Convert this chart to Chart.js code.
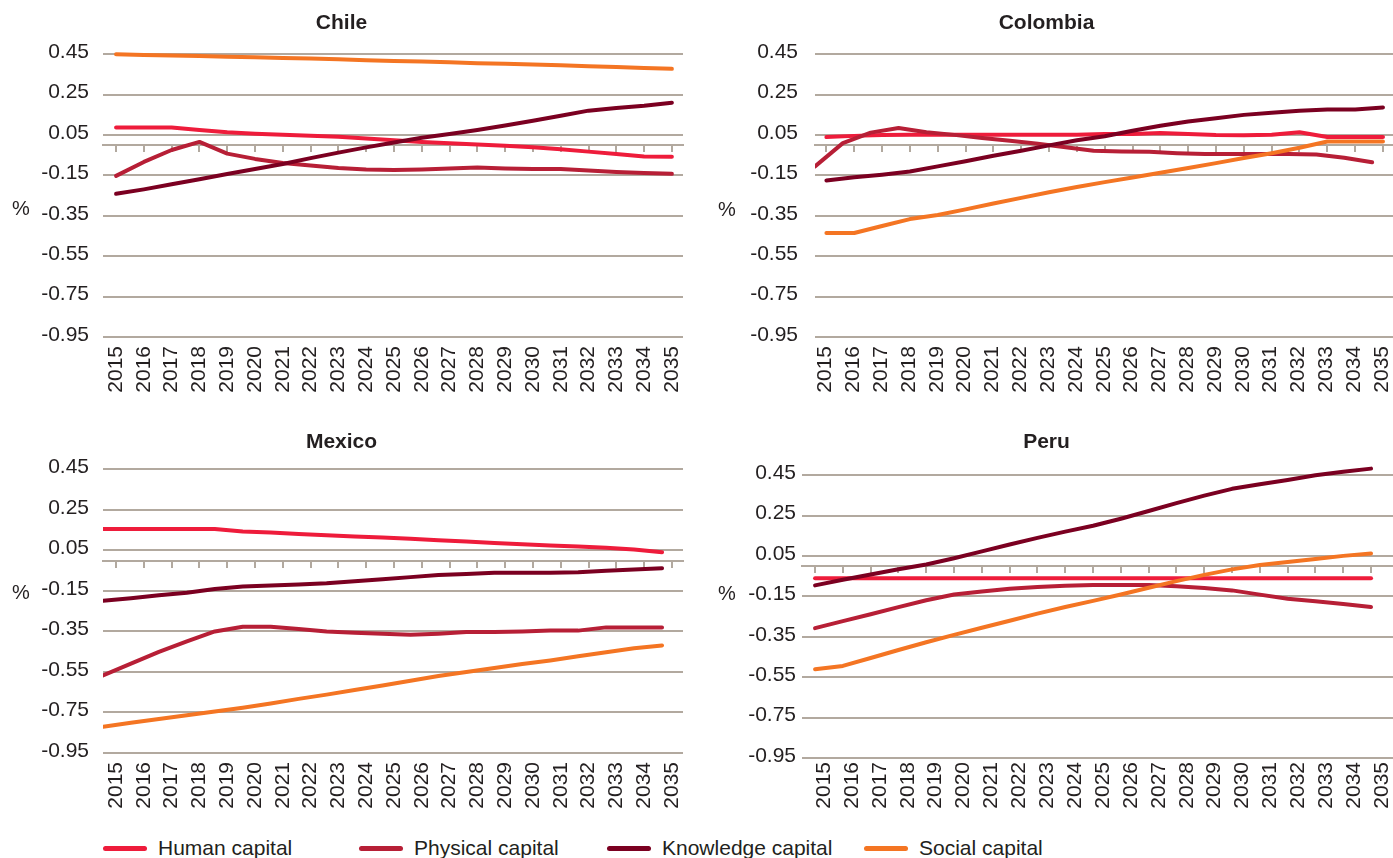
<!DOCTYPE html>
<html>
<head>
<meta charset="utf-8">
<script src="https://cdn.jsdelivr.net/npm/chart.js@4.4.1/dist/chart.umd.min.js"></script>
<style>
  html, body { margin: 0; padding: 0; background: #ffffff; }
  body { position: relative; width: 1393px; height: 858px; overflow: hidden;
         font-family: "Liberation Sans", Arial, Helvetica, sans-serif; color: #231f20; }
  .panel { position: absolute; }
  .pct { position: absolute; font-size: 20px; line-height: 20px; }
  .legend-item { position: absolute; top: 836px; height: 24px; display: flex; align-items: center;
                 font-size: 21px; white-space: nowrap; }
  .swatch { width: 44px; height: 5px; border-radius: 3px; margin-right: 11px; }
</style>
</head>
<body>
<div class="panel" style="left:0px;top:0px;"><canvas id="cChile" width="690" height="415"></canvas></div>
<div class="panel" style="left:700px;top:0px;"><canvas id="cColombia" width="693" height="415"></canvas></div>
<div class="panel" style="left:0px;top:420px;"><canvas id="cMexico" width="690" height="400"></canvas></div>
<div class="panel" style="left:700px;top:420px;"><canvas id="cPeru" width="693" height="400"></canvas></div>
<div class="pct" style="left:12px;top:198px;">%</div>
<div class="pct" style="left:718px;top:199px;">%</div>
<div class="pct" style="left:12px;top:582px;">%</div>
<div class="pct" style="left:718px;top:583px;">%</div>
<div id="legend"></div>
<script>
// ---------------- data ----------------
const years = [2015, 2016, 2017, 2018, 2019, 2020, 2021, 2022, 2023, 2024, 2025,
               2026, 2027, 2028, 2029, 2030, 2031, 2032, 2033, 2034, 2035];
const yTicks = [-0.95, -0.75, -0.55, -0.35, -0.15, 0.05, 0.25, 0.45];
const seriesNames = ['Human capital', 'Physical capital', 'Knowledge capital', 'Social capital'];

const chileHuman     = [0.088, 0.088, 0.088, 0.075, 0.064, 0.057, 0.052, 0.047, 0.042, 0.033, 0.024,
                        0.016, 0.009, 0.003, -0.003, -0.010, -0.020, -0.032, -0.044, -0.056, -0.057];
const chilePhysical  = [-0.152, -0.083, -0.024, 0.016, -0.042, -0.068, -0.088, -0.101, -0.113, -0.121, -0.123,
                        -0.120, -0.116, -0.111, -0.115, -0.118, -0.118, -0.125, -0.133, -0.138, -0.142];
const chileKnowledge = [-0.241, -0.219, -0.194, -0.169, -0.143, -0.118, -0.093, -0.064, -0.037, -0.011, 0.013,
                        0.037, 0.055, 0.075, 0.097, 0.121, 0.146, 0.171, 0.184, 0.195, 0.210];
const chileSocial    = [0.450, 0.447, 0.444, 0.441, 0.438, 0.435, 0.432, 0.429, 0.425, 0.421, 0.417,
                        0.414, 0.410, 0.406, 0.403, 0.400, 0.396, 0.391, 0.387, 0.382, 0.378];

const colombiaHuman     = [0.040, 0.046, 0.050, 0.052, 0.052, 0.052, 0.052, 0.052, 0.052, 0.052, 0.055,
                           0.055, 0.060, 0.055, 0.050, 0.049, 0.052, 0.064, 0.040, 0.040, 0.040];
const colombiaPhysical  = [-0.105, 0.010, 0.062, 0.085, 0.064, 0.051, 0.035, 0.022, 0.007, -0.010, -0.028,
                           -0.031, -0.033, -0.040, -0.044, -0.044, -0.044, -0.044, -0.046, -0.062, -0.085];
const colombiaKnowledge = [-0.175, -0.159, -0.146, -0.130, -0.105, -0.080, -0.052, -0.028, -0.001, 0.024, 0.044,
                           0.071, 0.096, 0.117, 0.133, 0.150, 0.161, 0.170, 0.177, 0.177, 0.187];
const colombiaSocial    = [-0.435, -0.435, -0.400, -0.366, -0.346, -0.318, -0.289, -0.261, -0.233, -0.207, -0.183,
                           -0.160, -0.137, -0.113, -0.089, -0.064, -0.040, -0.013, 0.018, 0.018, 0.018];

const mexicoHuman     = [0.156, 0.156, 0.156, 0.156, 0.156, 0.143, 0.138, 0.131, 0.125, 0.118, 0.113,
                         0.107, 0.100, 0.094, 0.087, 0.080, 0.074, 0.069, 0.063, 0.054, 0.041];
const mexicoPhysical  = [-0.567, -0.509, -0.451, -0.399, -0.350, -0.327, -0.327, -0.338, -0.350, -0.356, -0.361,
                         -0.366, -0.361, -0.353, -0.353, -0.350, -0.346, -0.346, -0.330, -0.330, -0.330];
const mexicoKnowledge = [-0.199, -0.186, -0.172, -0.159, -0.141, -0.128, -0.123, -0.118, -0.112, -0.102, -0.092,
                         -0.082, -0.072, -0.066, -0.061, -0.061, -0.061, -0.058, -0.051, -0.044, -0.038];
const mexicoSocial    = [-0.821, -0.801, -0.782, -0.764, -0.745, -0.727, -0.706, -0.683, -0.662, -0.639, -0.617,
                         -0.593, -0.570, -0.550, -0.531, -0.511, -0.493, -0.473, -0.453, -0.433, -0.419];

const peruHuman     = [-0.060, -0.060, -0.060, -0.060, -0.060, -0.060, -0.060, -0.060, -0.060, -0.060, -0.060,
                       -0.060, -0.060, -0.060, -0.060, -0.060, -0.060, -0.060, -0.060, -0.060, -0.060];
const peruPhysical  = [-0.307, -0.272, -0.238, -0.203, -0.169, -0.140, -0.125, -0.112, -0.103, -0.097, -0.093,
                       -0.093, -0.093, -0.100, -0.108, -0.120, -0.141, -0.161, -0.174, -0.187, -0.202];
const peruKnowledge = [-0.095, -0.067, -0.041, -0.015, 0.008, 0.039, 0.073, 0.107, 0.140, 0.171, 0.200,
                       0.235, 0.273, 0.312, 0.349, 0.383, 0.406, 0.427, 0.450, 0.468, 0.483];
const peruSocial    = [-0.511, -0.494, -0.455, -0.415, -0.377, -0.340, -0.305, -0.270, -0.235, -0.202, -0.172,
                       -0.140, -0.107, -0.074, -0.043, -0.016, 0.006, 0.021, 0.036, 0.051, 0.063];

// ---------------- style ----------------
const seriesColors = ['#ee1c3b', '#b71f36', '#7b0021', '#f47523'];
const gridColor = '#b2a99f';
const textColor = '#231f20';
const fontFamily = '"Liberation Sans", Arial, Helvetica, sans-serif';

const panels = [
  { id: 'cChile', title: 'Chile',
    series: [chileHuman, chilePhysical, chileKnowledge, chileSocial], shifted: [],
    yWidth: 103, yPad: 14, padRight: 7, titlePad: { top: 11, bottom: 8 }, xHeight: 78, xPad: 9,
    labelRange: [2014.53, 2035.40], tickRange: [2014.53, 2035.40], dataRange: [2014.53, 2035.40], shiftRange: [2015, 2035.75] },
  { id: 'cColombia', title: 'Colombia',
    series: [colombiaHuman, colombiaPhysical, colombiaKnowledge, colombiaSocial], shifted: [1],
    yWidth: 115, yPad: 17, padRight: 0, titlePad: { top: 11, bottom: 8 }, xHeight: 78, xPad: 9,
    labelRange: [2014.62, 2035.40], tickRange: [2014.59, 2035.36], dataRange: [2014.59, 2035.36], shiftRange: [2015, 2035.75] },
  { id: 'cMexico', title: 'Mexico',
    series: [mexicoHuman, mexicoPhysical, mexicoKnowledge, mexicoSocial], shifted: [0, 1, 2, 3],
    yWidth: 103, yPad: 14, padRight: 7, titlePad: { top: 10, bottom: 4 }, xHeight: 67, xPad: 9,
    labelRange: [2014.53, 2035.40], tickRange: [2014.53, 2035.40], dataRange: [2014.53, 2035.40], shiftRange: [2015, 2035.75] },
  { id: 'cPeru', title: 'Peru',
    series: [peruHuman, peruPhysical, peruKnowledge, peruSocial], shifted: [],
    yWidth: 102, yPad: 6, padRight: 0, titlePad: { top: 10, bottom: 10 }, xHeight: 62, xPad: 4,
    labelRange: [2014.21, 2035.39], tickRange: [2014.53, 2035.79], dataRange: [2014.53, 2035.79], shiftRange: [2015, 2035.75] }
];

const setYearTicks = (s) => { s.ticks = years.map(v => ({ value: v })); };
const setValueTicks = (s) => { s.ticks = yTicks.map(v => ({ value: v })); };
const noPadding = (s) => { s.paddingLeft = 0; s.paddingRight = 0; s.paddingTop = 0; s.paddingBottom = 0; };

panels.forEach(p => {
  const datasets = p.series.map((vals, i) => ({
    label: seriesNames[i],
    data: vals,
    borderColor: seriesColors[i],
    backgroundColor: seriesColors[i],
    borderWidth: 4,
    pointRadius: 0,
    pointHoverRadius: 0,
    tension: 0,
    fill: false,
    borderCapStyle: 'round',
    borderJoinStyle: 'round',
    xAxisID: p.shifted.includes(i) ? 'xs' : 'xd',
    yAxisID: 'y',
    order: 3 - i
  }));

  new Chart(document.getElementById(p.id), {
    type: 'line',
    data: { labels: years, datasets },
    options: {
      responsive: false,
      animation: false,
      devicePixelRatio: 1,
      layout: { autoPadding: false, padding: { left: 0, right: p.padRight, top: 0, bottom: 0 } },
      plugins: {
        legend: { display: false },
        tooltip: { enabled: false },
        title: {
          display: true, text: p.title, color: textColor,
          font: { family: fontFamily, size: 21, weight: 'bold', lineHeight: 1.2 },
          padding: p.titlePad
        }
      },
      scales: {
        x: {
          type: 'linear', position: 'bottom', min: p.labelRange[0], max: p.labelRange[1],
          afterBuildTicks: setYearTicks,
          afterFit: (s) => { s.height = p.xHeight; noPadding(s); },
          grid: { display: false, drawTicks: false },
          border: { display: false },
          ticks: {
            autoSkip: false, minRotation: 90, maxRotation: 90, padding: p.xPad,
            color: textColor, font: { family: fontFamily, size: 21 },
            callback: (v) => String(v)
          }
        },
        x0: {
          type: 'linear', position: { y: 0 }, min: p.tickRange[0], max: p.tickRange[1],
          afterBuildTicks: setYearTicks,
          afterFit: noPadding,
          grid: { display: true, drawOnChartArea: false, drawTicks: true, tickLength: 6, color: gridColor, lineWidth: 2 },
          border: { display: true, color: gridColor, width: 2 },
          ticks: { display: false }
        },
        xd: { type: 'linear', display: false, min: p.dataRange[0], max: p.dataRange[1], afterFit: noPadding },
        xs: { type: 'linear', display: false, min: p.shiftRange[0], max: p.shiftRange[1], afterFit: noPadding },
        y: {
          type: 'linear', position: 'left', min: -0.95, max: 0.5,
          afterBuildTicks: setValueTicks,
          afterFit: (s) => { s.width = p.yWidth; noPadding(s); },
          grid: { color: gridColor, lineWidth: 2, drawTicks: false },
          border: { display: false },
          ticks: {
            padding: p.yPad, labelOffset: -2, color: textColor,
            font: { family: fontFamily, size: 21 },
            callback: (v) => Number(v).toFixed(2)
          }
        }
      }
    }
  });
});

// ---------------- legend ----------------
const legendLeft = [103, 359, 607, 864];
const legend = document.getElementById('legend');
seriesNames.forEach((name, i) => {
  const item = document.createElement('div');
  item.className = 'legend-item';
  item.style.left = legendLeft[i] + 'px';
  const sw = document.createElement('span');
  sw.className = 'swatch';
  sw.style.background = seriesColors[i];
  const tx = document.createElement('span');
  tx.textContent = name;
  item.appendChild(sw);
  item.appendChild(tx);
  legend.appendChild(item);
});
</script>
</body>
</html>
